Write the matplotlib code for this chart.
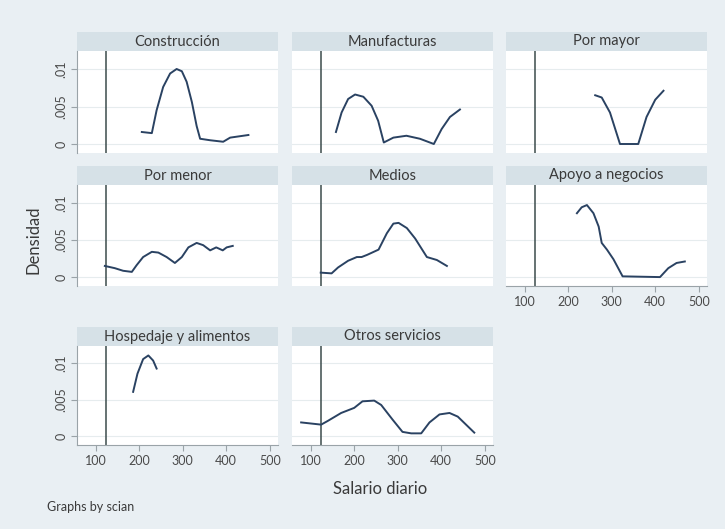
import matplotlib
matplotlib.use("Agg")
import matplotlib.pyplot as plt

plt.rcParams['font.family'] = ['Lato', 'DejaVu Sans']

# kernel density curves (salario diario, densidad)
construccion_x = [206, 229, 240, 255, 271, 286, 298, 309, 321, 332, 340, 363, 393, 409, 451]
construccion_y = [.0016, .00145, .0045, .0076, .0094, .0100, .0097, .0083, .0056, .0024, .0007, .0005, .0003,
                  .00085, .0012]

manufacturas_x = [158, 171, 186, 202, 221, 240, 255, 268, 290, 320, 351, 383, 401, 420, 443]
manufacturas_y = [.0016, .0042, .006, .0066, .0063, .0051, .0031, .0002, .00085, .0011, .0007, .0, .002, .0036,
                  .0046]

por_mayor_x = [262, 277, 296, 319, 361, 380, 400, 419]
por_mayor_y = [.0065, .0062, .0042, .0, .0, .0036, .0059, .0071]

por_menor_x = [121, 144, 163, 183, 194, 209, 229, 244, 263, 282, 298, 313, 332, 347, 363, 377, 392, 401, 415]
por_menor_y = [.0015, .0012, .00085, .0007, .0016, .0027, .0034, .0033, .0027, .0019, .0027, .004, .0046, .0043,
               .0036, .004, .0036, .004, .0042]

medios_x = [123, 148, 163, 186, 206, 217, 230, 256, 275, 290, 302, 321, 340, 367, 390, 413]
medios_y = [.0006, .0005, .0013, .0022, .0027, .0027, .003, .0037, .0059, .0072, .0073, .0066, .0052, .0027, .0023, .0015]

apoyo_x = [220, 231, 243, 258, 270, 277, 289, 304, 325, 411, 430, 449, 468]
apoyo_y = [.0086, .0094, .0097, .0086, .0068, .0046, .0037, .0024, .0001, .0, .0012, .0019, .0021]

hospedaje_x = [186, 196, 209, 221, 232, 240]
hospedaje_y = [.0061, .0086, .0106, .0111, .0104, .0093]

otros_x = [78, 124, 139, 170, 200, 219, 246, 262, 288, 311, 331, 354, 373, 396, 419, 438, 457, 476]
otros_y = [.0019, .0016, .0021, .0032, .0039, .0048, .0049, .0043, .0023, .0006, .0004, .0004, .0019, .003, .0032,
           .0027, .0016, .0005]

titles = ["Construcción", "Manufacturas", "Por mayor", "Por menor", "Medios",
          "Apoyo a negocios", "Hospedaje y alimentos", "Otros servicios"]
xticks = [100, 200, 300, 400, 500]
yticks = [0, .005, .01]
ytick_labels = ["0", ".005", ".01"]
salario_minimo = 123

series = [(construccion_x, construccion_y), (manufacturas_x, manufacturas_y), (por_mayor_x, por_mayor_y),
          (por_menor_x, por_menor_y), (medios_x, medios_y), (apoyo_x, apoyo_y),
          (hospedaje_x, hospedaje_y), (otros_x, otros_y)]

W, H = 725, 529
BG = '#e9eff3'
HEAD = '#d6e1e7'
LINE = '#2a4262'
AXC = '#9aa3a8'
TXT = '#3a3a3a'

fig = plt.figure(figsize=(W / 100, H / 100), dpi=100, facecolor=BG)

col_left = [77, 292, 506]
col_w = 201
row_head = [32, 166, 327]
head_h = 19
plot_h = [102, 101, 99]
with_xaxis = {5, 6, 7}


def px_axes(l, t, w, h, **kw):
    return fig.add_axes([l / W, 1 - (t + h) / H, w / W, h / H], **kw)


for i, (title, (xs, ys)) in enumerate(zip(titles, series)):
    r, c = divmod(i, 3)
    l = col_left[c]
    top = row_head[r]

    hd = px_axes(l, top, col_w, head_h, facecolor=HEAD)
    hd.set_xticks([])
    hd.set_yticks([])
    for s in hd.spines.values():
        s.set_visible(False)
    hd.text(0.5, 0.5, title, ha='center', va='center', fontsize=10.5, color=TXT,
            transform=hd.transAxes)

    ax = px_axes(l, top + head_h, col_w, plot_h[r], facecolor='white')
    ax.set_xlim(57, 519)
    ax.set_ylim(-0.0012, 0.0124)
    for yv in yticks:
        ax.axhline(yv, color='#e6ecee', lw=0.8, zorder=0)
    ax.axvline(salario_minimo, color='#3c4c4c', lw=1.1)
    ax.plot(xs, ys, color=LINE, lw=1.4)

    for s in ax.spines.values():
        s.set_visible(False)
    ax.set_xticks(xticks)
    ax.set_yticks(yticks)
    ax.tick_params(colors=AXC, labelcolor='#4a4a4a', labelsize=9, length=4, width=0.8, pad=3)
    if c == 0:
        ax.spines['left'].set_visible(True)
        ax.spines['left'].set_color(AXC)
        ax.set_yticklabels(ytick_labels, rotation=90, va='center')
    else:
        ax.tick_params(axis='y', left=False, labelleft=False)
    if i in with_xaxis:
        ax.spines['bottom'].set_visible(True)
        ax.spines['bottom'].set_color(AXC)
    else:
        ax.tick_params(axis='x', bottom=False, labelbottom=False)

fig.text(34 / W, 1 - 240 / H, "Densidad", rotation=90, ha='center', va='center', fontsize=12, color=TXT)
fig.text(380 / W, 1 - 489 / H, "Salario diario", ha='center', va='center', fontsize=12, color=TXT)
fig.text(47 / W, 1 - 507 / H, "Graphs by scian", ha='left', va='center', fontsize=9, color=TXT)

fig.savefig("out.png", dpi=100, facecolor=BG)
